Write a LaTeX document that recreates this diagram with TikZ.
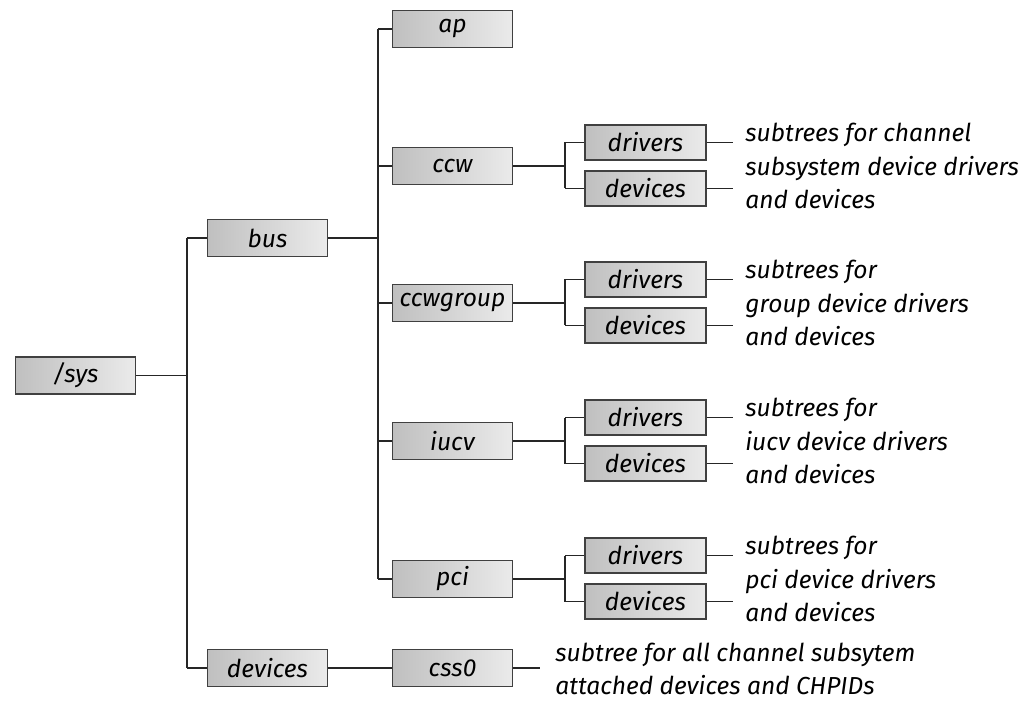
\documentclass[tikz,border=0pt]{standalone}
\usepackage{fontspec}
\setmainfont{Fira Sans}
\begin{document}
\begin{tikzpicture}[x=0.02cm,y=-0.02cm,
  box/.style={draw=black!75, line width=0.8pt, left color=black!25, right color=black!8,
    minimum width=2.4cm, minimum height=0.74cm, inner sep=0pt, font=\fontsize{14}{17}\selectfont\itshape},
  sbox/.style={box, minimum width=2.42cm, minimum height=0.7cm},
  desc/.style={anchor=west, align=left, inner sep=0pt, font=\fontsize{14}{19.2}\selectfont\itshape},
  conn/.style={draw=black!85, line width=0.7pt}]
\useasboundingbox (0,0) rectangle (1027,702);
% level 0/1
\node[box] (sys) at (75.5,375.5) {/sys};
\node[box] (bus) at (267.5,238) {bus};
\node[box] (dev) at (267.5,668) {devices};
% level 2
\node[box] (ap) at (452.5,29) {ap};
\node[box] (ccw) at (452.5,166) {ccw};
\node[box] (ccwg) at (452.5,303) {ccwgroup};
\node[box] (iucv) at (452.5,441) {iucv};
\node[box] (pci) at (452.5,579) {pci};
\node[box] (css) at (452.5,668) {css0};
% junctions
\coordinate (j0) at (187,375.5);
\coordinate (j1) at (378,238);
\draw[conn] (sys.east) -- (j0);
\draw[conn] (j0 |- bus) -- (j0 |- dev);
\draw[conn] (j0 |- bus) -- (bus.west);
\draw[conn] (j0 |- dev) -- (dev.west);
\draw[conn] (bus.east) -- (j1);
\draw[conn] (j1 |- ap) -- (j1 |- pci);
\foreach \n in {ap,ccw,ccwg,iucv,pci}{\draw[conn] (j1 |- \n) -- (\n.west);}
\draw[conn] (dev.east) -- (css.west);
\coordinate (e0) at (540,668);
\draw[conn] (css.east) -- (e0);
\node[desc] (t0) at (555,669) {subtree for all channel subsytem\\attached devices and CHPIDs};
% driver/device pairs
\foreach \p/\y/\la/\lb in {ccw/166/subtrees for channel/subsystem device drivers,
                     ccwg/303/subtrees for/group device drivers,
                     iucv/441/subtrees for/iucv device drivers,
                     pci/579/subtrees for/pci device drivers}{
  \node[sbox] (\p dr) at (645.5,\y-23.5) {drivers};
  \node[sbox] (\p dv) at (645.5,\y+22.5) {devices};
  \coordinate (\p j) at (565,\y);
  \draw[conn] (\p.east) -- (\p j);
  \draw[conn] (\p j |- \p dr) -- (\p j |- \p dv);
  \draw[conn] (\p j |- \p dr) -- (\p dr.west);
  \draw[conn] (\p j |- \p dv) -- (\p dv.west);
  \coordinate (\p a) at (733,\y-23.5);
  \coordinate (\p b) at (733,\y+22.5);
  \draw[conn] (\p dr.east) -- (\p a);
  \draw[conn] (\p dv.east) -- (\p b);
  \node[desc] (\p t) at (745,\y) {\la\\\lb\\and devices};
}
\end{tikzpicture}
\end{document}
